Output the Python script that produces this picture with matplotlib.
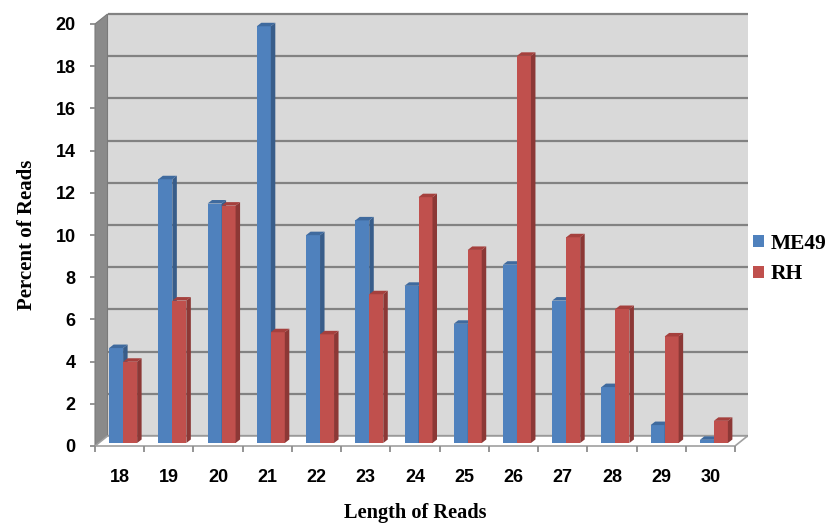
import matplotlib
matplotlib.use("Agg")
import matplotlib.pyplot as plt
from matplotlib.patches import Polygon

categories = ['18', '19', '20', '21', '22', '23', '24', '25', '26', '27', '28', '29', '30']
me49 = [4.5, 12.5, 11.35, 19.75, 9.85, 10.55, 7.45, 5.65, 8.45, 6.75, 2.65, 0.85, 0.15]
rh = [3.85, 6.75, 11.25, 5.25, 5.15, 7.05, 11.65, 9.15, 18.35, 9.75, 6.35, 5.05, 1.05]
series_names = ['ME49', 'RH']
yticks = list(range(0, 21, 2))

W, H = 833, 532
fig = plt.figure(figsize=(W / 100, H / 100), dpi=100)
x0px, x1px = 95, 735
y0px, y20px = 446, 24
ax = fig.add_axes([x0px / W, 1 - y0px / H, (x1px - x0px) / W, (y0px - y20px) / H])
n = len(categories)
ax.set_xlim(-0.5, n - 0.5)
ax.set_ylim(0, 20)
ppx = (x1px - x0px) / n
ppy = (y0px - y20px) / 20.0

# 3D geometry (pixel offsets converted to data units)
dx, dy = 12.5 / ppx, 10.0 / ppy          # wall depth
bx, by = 3.5 / ppx, 3.0 / ppy            # bar front offset
w = 14.0 / ppx                           # bar width
ddx, ddy = 4.5 / ppx, 3.5 / ppy          # bar depth

xl, xr = -0.5, n - 0.5
# back wall
ax.add_patch(Polygon([(xl + dx, dy), (xr + dx, dy), (xr + dx, 20 + dy), (xl + dx, 20 + dy)],
                     closed=True, facecolor='#D9D9D9', edgecolor='none', zorder=0.5, clip_on=False))
for v in yticks:
    ax.plot([xl + dx, xr + dx], [v + dy, v + dy], color='#828282', lw=1.6, zorder=0.6,
            clip_on=False, solid_capstyle='butt')
# left wall
ax.add_patch(Polygon([(xl, 0), (xl + dx, dy), (xl + dx, 20 + dy), (xl, 20)],
                     closed=True, facecolor='#8A8A8A', edgecolor='#7A7A7A', lw=0.8,
                     zorder=0.7, clip_on=False))
# floor
ax.add_patch(Polygon([(xl, 0), (xr, 0), (xr + dx, dy), (xl + dx, dy)],
                     closed=True, facecolor='white', edgecolor='#A0A0A0', lw=1.2,
                     zorder=0.8, clip_on=False))

colors = [('#4F81BD', '#385D8A', '#3F6A9E'), ('#C0504D', '#8C3836', '#A5403D')]
handles = []
for i in range(n):
    for j, vals in enumerate([me49, rh]):
        v = vals[i]
        front, side, top = colors[j]
        left = i - w + bx + j * w
        b = ax.bar(left, v, width=w, bottom=by, align='edge', color=front,
                   edgecolor='none', zorder=2, label=series_names[j] if i == 0 else None)
        if i == 0:
            handles.append(b)
        right = left + w
        ax.add_patch(Polygon([(right, by), (right, by + v), (right + ddx, by + v + ddy),
                              (right + ddx, by + ddy)], closed=True, facecolor=side,
                             edgecolor='none', zorder=2, clip_on=False))
        ax.add_patch(Polygon([(left, by + v), (right, by + v), (right + ddx, by + v + ddy),
                              (left + ddx, by + v + ddy)], closed=True, facecolor=top,
                             edgecolor='none', zorder=2, clip_on=False))

for s in ax.spines.values():
    s.set_visible(False)
ax.set_facecolor('none')

ax.set_xticks(range(n))
ax.set_xticklabels(categories, fontfamily='Liberation Sans', fontweight='bold', fontsize=13)
ax.set_xticks([k - 0.5 for k in range(n + 1)], minor=True)
ax.tick_params(axis='x', which='major', length=0, pad=16.5)
ax.tick_params(axis='x', which='minor', length=4, color='#8C8C8C', width=1.3)
ax.set_yticks(yticks)
ax.set_yticklabels([str(t) for t in yticks], fontfamily='Liberation Sans', fontweight='bold', fontsize=13)
ax.tick_params(axis='y', length=3.5, color='#8C8C8C', width=1.3, pad=10.5)

fig.text(27 / W, 1 - 235 / H, 'Percent of Reads', rotation=90, ha='center', va='center',
         fontfamily='Liberation Serif', fontweight='bold', fontsize=15)
fig.text(415 / W, 1 - 513 / H, 'Length of Reads', ha='center', va='center',
         fontfamily='Liberation Serif', fontweight='bold', fontsize=14.7)

ax.legend(handles=handles, labels=series_names, loc='center left',
          bbox_to_anchor=(753 / W, 1 - 259 / H), bbox_transform=fig.transFigure,
          frameon=False, prop={'family': 'Liberation Serif', 'weight': 'bold', 'size': 15.5},
          handlelength=0.5, handleheight=0.5, handletextpad=0.3, labelspacing=0.5,
          borderaxespad=0, borderpad=0)

fig.savefig('out.png', dpi=100)
